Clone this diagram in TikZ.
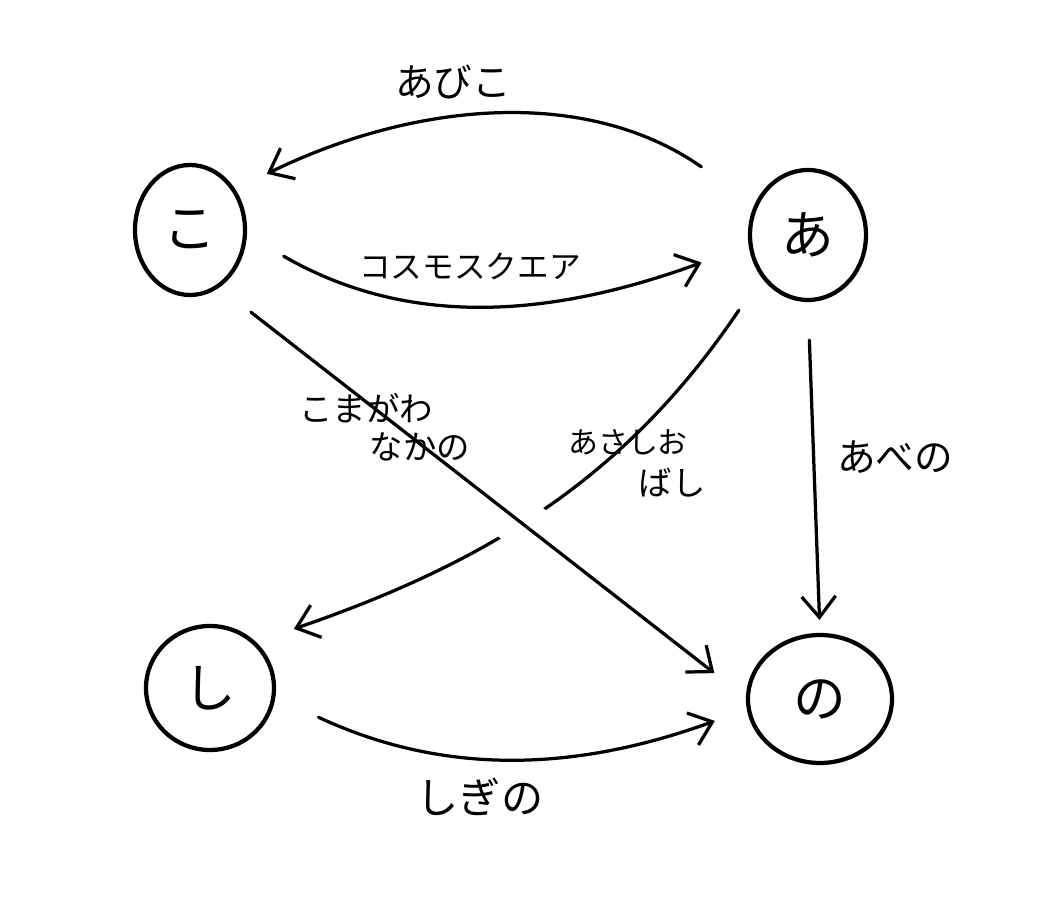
\documentclass[tikz,border=0pt]{standalone}
\usepackage{fontspec}
\newfontfamily\jpfont{Noto Sans CJK JP}
\usetikzlibrary{arrows.meta, shapes.geometric}
\begin{document}
\begin{tikzpicture}[
        > = {Straight Barb[length = 4.2mm, width = 6.8mm]},
        line width = 0.65mm,
        line cap = round,
        station/.style = {draw, ellipse, line width = 0.85mm, inner sep = 0pt, font = \jpfont\fontsize{30}{30}\selectfont},
        route/.style = {font = \jpfont\fontsize{20}{24}\selectfont, inner sep = 0pt}
    ]
        \useasboundingbox (0,0) rectangle (21.06,18.36);
        \node[station, minimum width = 2.2cm, minimum height = 2.6cm] (ko) at (3.80,13.76) {こ};
        \node[station, minimum width = 2.32cm, minimum height = 2.6cm] (a) at (16.16,13.66) {あ};
        \node[station, minimum width = 2.56cm, minimum height = 2.48cm] (shi) at (4.20,4.60) {し};
        \node[station, minimum width = 2.88cm, minimum height = 2.56cm] (no) at (16.40,4.38) {の};
        \draw[->, shorten <= 0.8cm, shorten >= 0.8cm] (a.222) to[out = 236, in = 19] (shi.45);
        \draw[->, shorten <= 0.8cm, shorten >= 0.8cm, preaction = {draw = white, line width = 1cm, line cap = butt, -}] (ko.-63) -- (no.179);
        \draw[->, shorten <= 1.3cm, shorten >= 0.7cm] (a.150) to[out = 145, in = 26] (ko.42);
        \draw[->, shorten <= 0.85cm, shorten >= 1cm] (ko.-5) to[out = -30, in = 200] (a.190);
        \draw[->, shorten <= 0.76cm, shorten >= 0.26cm] (a.-90) -- (no.90);
        \draw[->, shorten <= 0.95cm, shorten >= 0.68cm] (shi.-8) to[out = -25, in = 200] (no.188);
        \node[route, font = \jpfont\fontsize{22}{24}\selectfont] (abiko) at (9.06,16.72) {あびこ};
        \node[route, font = \jpfont\fontsize{18}{20}\selectfont] (cosmo) at (9.40,13.04) {コスモスクエア};
        \node[route, font = \jpfont\fontsize{19}{22}\selectfont] (komagawa) at (7.32,10.20) {こまがわ};
        \node[route, font = \jpfont\fontsize{19}{22}\selectfont] (nakano) at (8.40,9.42) {なかの};
        \node[route, font = \jpfont\fontsize{17}{20}\selectfont] (asashio) at (12.56,9.52) {あさしお};
        \node[route, font = \jpfont\fontsize{19}{22}\selectfont] (bashi) at (13.44,8.70) {ばし};
        \node[route, font = \jpfont\fontsize{22}{24}\selectfont] (abeno) at (17.90,9.22) {あべの};
        \node[route, font = \jpfont\fontsize{24}{26}\selectfont] (shigino) at (9.60,2.42) {しぎの};
    \end{tikzpicture}
\end{document}
